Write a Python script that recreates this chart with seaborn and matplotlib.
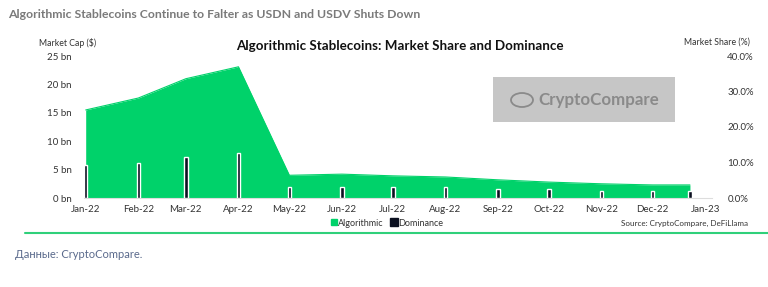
import matplotlib
matplotlib.use("Agg")
import matplotlib.pyplot as plt
import matplotlib.dates as mdates
from matplotlib.patches import Rectangle, Ellipse
from matplotlib.lines import Line2D
import seaborn as sns
import pandas as pd
import numpy as np

sns.set_theme(style="white")
plt.rcParams['font.family'] = ['Lato', 'DejaVu Sans']

dates = ["2022-01-01", "2022-02-01", "2022-03-01", "2022-04-01", "2022-05-01", "2022-06-01",
         "2022-07-01", "2022-08-01", "2022-09-01", "2022-10-01", "2022-11-01", "2022-12-01",
         "2022-12-23"]
market_cap_bn = [15.5, 17.6, 21.0, 23.1, 4.0, 4.2, 3.9, 3.7, 3.2, 2.8, 2.5, 2.3, 2.3]
dominance_pct = [9.3, 9.9, 11.5, 12.7, 3.1, 3.1, 3.1, 3.1, 2.5, 2.5, 2.0, 2.0, 2.0]
left_ticks = [0, 5, 10, 15, 20, 25]
left_labels = ["0 bn", "5 bn", "10 bn", "15 bn", "20 bn", "25 bn"]
right_ticks = [0, 10, 20, 30, 40]
right_labels = ["0.0%", "10.0%", "20.0%", "30.0%", "40.0%"]

df = pd.DataFrame({"date": pd.to_datetime(dates), "cap": market_cap_bn, "dom": dominance_pct})

GREEN = "#00d26a"
DARK = "#0b1020"

fig = plt.figure(figsize=(7.68, 2.87), dpi=100)
ax = fig.add_axes([84/768, 1-198/287, (712-84)/768, (198-56)/287])

sns.lineplot(data=df, x="date", y="cap", ax=ax, color=GREEN, linewidth=0.8)
ax.fill_between(df["date"], 0, df["cap"], color=GREEN, linewidth=0, zorder=1)

ax2 = ax.twinx()
ax2.bar(df["date"], df["dom"], width=2.0, color=DARK, zorder=3)
ax2.set_ylim(0, 40)
ax.set_ylim(0, 25)
ax.set_xlim(pd.Timestamp("2022-01-01") - pd.Timedelta(days=1), pd.Timestamp("2023-01-05"))

ax.set_yticks(left_ticks)
ax.set_yticklabels(left_labels)
ax2.set_yticks(right_ticks)
ax2.set_yticklabels(right_labels)
ax.set_xlabel("")
ax.set_ylabel("")

xt = pd.date_range("2022-01-01", "2023-01-01", freq="MS")
ax.set_xticks(xt)
ax.xaxis.set_major_formatter(mdates.DateFormatter("%b-%y"))

for a in (ax, ax2):
    for s in a.spines.values():
        s.set_visible(False)
ax.spines["bottom"].set_visible(True)
ax.spines["bottom"].set_color("#dddddd")
ax.spines["bottom"].set_linewidth(0.8)
ax.tick_params(axis="x", length=0, pad=5, labelsize=7, labelcolor="#333333")
ax.tick_params(axis="y", length=0, pad=9, labelsize=7, labelcolor="#333333")
ax2.tick_params(axis="y", length=0, pad=11, labelsize=7, labelcolor="#333333")
ax.grid(False); ax2.grid(False)

# watermark box
fig.patches.append(Rectangle((493/768, 1-122/287), (675-493)/768, (122-77)/287,
                             transform=fig.transFigure, facecolor="#c6c6c6", edgecolor="none", zorder=5))
fig.patches.append(Ellipse((522/768, 1-100/287), 22/768, 14/287, transform=fig.transFigure,
                           facecolor="none", edgecolor="#8a8a8a", linewidth=1.3, zorder=6))
fig.text(599/768, 1-100/287, "CryptoCompare", ha="center", va="center", fontsize=12.2,
         fontweight="bold", color="#8a8a8a", zorder=6)

# titles and labels
fig.text(8/768, 1-14/287, "Algorithmic Stablecoins Continue to Falter as USDN and USDV Shuts Down",
         ha="left", va="center", fontsize=8.8, fontweight="bold", color="#7a7a7a")
fig.text(400/768, 1-46/287, "Algorithmic Stablecoins: Market Share and Dominance",
         ha="center", va="center", fontsize=9.6, fontweight="bold", color="#111111")
fig.text(68/768, 1-43/287, "Market Cap ($)", ha="center", va="center", fontsize=6.3, color="#333333")
fig.text(717/768, 1-42/287, "Market Share (%)", ha="center", va="center", fontsize=6.3, color="#333333")

# legend
handles = [Line2D([], [], marker="s", linestyle="none", markersize=4, color=GREEN, label="Algorithmic"),
           Line2D([], [], marker="s", linestyle="none", markersize=6, color=DARK, label="Dominance")]
fig.legend(handles=handles, loc="center", bbox_to_anchor=(387/768, 1-223/287), ncol=2, frameon=False,
           fontsize=6.5, handlelength=0.6, handletextpad=0.2, columnspacing=0.8, labelcolor="#333333")
fig.text(748/768, 1-223/287, "Source: CryptoCompare, DeFiLlama", ha="right", va="center",
         fontsize=5.8, color="#333333")

fig.add_artist(Line2D([25/768, 1.0], [1-233/287, 1-233/287], transform=fig.transFigure,
                      color="#2fd07a", linewidth=1.5))
fig.text(15/768, 1-255/287, "Данные: CryptoCompare.", ha="left", va="center", fontsize=8,
         color="#5a6a8c")

fig.savefig("out.png", dpi=100)
